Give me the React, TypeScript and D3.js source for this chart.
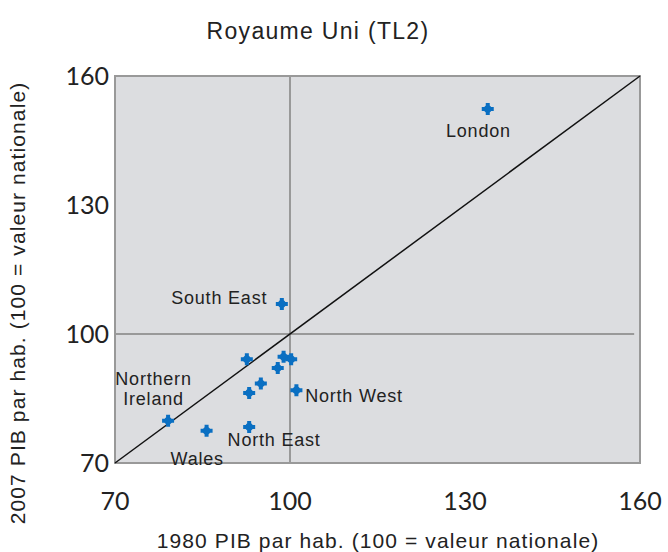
import React from "react";
import * as d3 from "d3";

const regions = ["London", "South East", "R3", "R4", "R5", "R6", "R7", "R8", "North West", "Northern Ireland", "Wales", "North East"];
const x1980 = [133.9, 98.6, 92.6, 98.9, 100.2, 97.9, 95.0, 93.0, 101.1, 79.1, 85.7, 93.0];
const y2007 = [152.3, 107.0, 94.1, 94.7, 94.1, 92.1, 88.5, 86.3, 86.9, 79.8, 77.5, 78.4];
const ticks = [70, 100, 130, 160];

const labels = [
  { text: ["London"], x: 132.3, y: 145.8, anchor: "middle" },
  { text: ["South East"], x: 96.1, y: 106.9, anchor: "end" },
  { text: ["North West"], x: 102.6, y: 84.1, anchor: "start" },
  { text: ["Northern", "Ireland"], x: 76.6, y: 88.2, anchor: "middle" },
  { text: ["Wales"], x: 84.1, y: 69.6, anchor: "middle" },
  { text: ["North East"], x: 89.3, y: 74.0, anchor: "start" },
];

export default function App() {
  const W = 668, H = 552;
  const x = d3.scaleLinear().domain([70, 160]).range([115, 640]);
  const y = d3.scaleLinear().domain([70, 160]).range([463, 76]);
  const sym = d3.symbol().type(d3.symbolCross).size(80)() as string;
  const font = "'Liberation Sans', Arial, sans-serif";
  const tickFont = "Lato, 'Liberation Sans', sans-serif";
  return (
    <svg width={W} height={H} style={{ position: "absolute", left: 0, top: 0 }} fontFamily={font}>
      <rect x={0} y={0} width={W} height={H} fill="#fff" />
      <text x={318} y={39} textAnchor="middle" fontSize={23} letterSpacing={1.3} fill="#222">Royaume Uni (TL2)</text>
      <rect x={x(70)} y={y(160)} width={x(160) - x(70)} height={y(70) - y(160)} fill="#dcdde0" stroke="#999" strokeWidth={2} />
      <line x1={x(100)} x2={x(100)} y1={y(160)} y2={y(70)} stroke="#999" strokeWidth={2} />
      <line x1={x(70)} x2={x(159)} y1={y(100)} y2={y(100)} stroke="#999" strokeWidth={2} />
      <line x1={x(70)} x2={x(160)} y1={y(70)} y2={y(160)} stroke="#111" strokeWidth={1.5} />
      {x1980.map((v, i) => (
        <g key={regions[i]} transform={`translate(${x(v)},${y(y2007[i])})`}>
          <path d={sym} fill="#0a6fc2" />
          <circle r={3.8} fill="#0a6fc2" />
        </g>
      ))}
      {labels.map((l) => (
        <text key={l.text.join()} x={x(l.x)} y={y(l.y)} textAnchor={l.anchor} fontSize={18} letterSpacing={0.8} fill="#222">
          {l.text.map((t, j) => (
            <tspan key={t} x={x(l.x)} dy={j === 0 ? 0 : 20}>{t}</tspan>
          ))}
        </text>
      ))}
      {ticks.map((t) => (
        <text key={"x" + t} x={x(t)} y={510} textAnchor="middle" fontFamily={tickFont} fontSize={25} fill="#222">{t}</text>
      ))}
      {ticks.map((t) => (
        <text key={"y" + t} x={109} y={y(t) + 9} textAnchor="end" fontFamily={tickFont} fontSize={25} fill="#222">{t}</text>
      ))}
      <text x={378} y={548} textAnchor="middle" fontSize={21} letterSpacing={1.1} fill="#222">1980 PIB par hab. (100 = valeur nationale)</text>
      <text transform="translate(25,303) rotate(-90)" textAnchor="middle" fontSize={21} letterSpacing={1.1} fill="#222">2007 PIB par hab. (100 = valeur nationale)</text>
    </svg>
  );
}
